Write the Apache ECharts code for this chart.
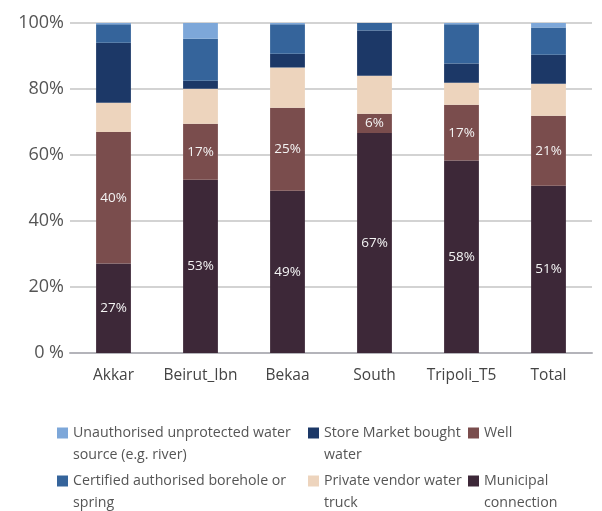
<!DOCTYPE html>
<html><head><meta charset="utf-8">
<script src="https://cdn.jsdelivr.net/npm/echarts@6/dist/echarts.min.js"></script>
<style>html,body{margin:0;padding:0;background:#fff}#c{width:602px;height:511px}</style>
</head><body><div id="c"></div>
<script>
const categories = ['Akkar','Beirut_Ibn','Bekaa','South','Tripoli_T5','Total'];
const municipal = [27.1, 52.5, 49.2, 66.7, 58.3, 50.7];
const well = [39.9, 17.0, 25.1, 5.8, 16.9, 21.2];
const privateTruck = [8.8, 10.6, 12.2, 11.5, 6.7, 9.7];
const storeMarket = [18.2, 2.4, 4.2, 13.7, 5.8, 8.8];
const certified = [5.6, 12.7, 8.9, 2.3, 11.9, 8.2];
const unauthorised = [0.4, 4.8, 0.4, 0, 0.4, 1.4];
const yTickLabels = ['0 %','20%','40%','60%','80%','100%'];

const seriesNames = {
  municipal: 'Municipal connection',
  well: 'Well',
  privateTruck: 'Private vendor water truck',
  storeMarket: 'Store Market bought water',
  certified: 'Certified authorised borehole or spring',
  unauthorised: 'Unauthorised unprotected water source (e.g. river)'
};
const legendText = {
  'Unauthorised unprotected water source (e.g. river)': 'Unauthorised unprotected water\nsource (e.g. river)',
  'Store Market bought water': 'Store Market bought\nwater',
  'Well': 'Well\n',
  'Certified authorised borehole or spring': 'Certified authorised borehole or\nspring',
  'Private vendor water truck': 'Private vendor water\ntruck',
  'Municipal connection': 'Municipal\nconnection'
};
const colors = {
  municipal: '#3d2838', well: '#7a4d4d', privateTruck: '#edd4bd',
  storeMarket: '#1c3867', certified: '#35649b', unauthorised: '#7da7d9'
};
const FONT = 'Open Sans';
const chart = echarts.init(document.getElementById('c'), null, {renderer: 'canvas'});

function mk(key, data, showLabel) {
  return {
    name: seriesNames[key], type: 'bar', stack: 'all', data: data, barWidth: '40%',
    itemStyle: {color: colors[key]},
    label: {show: showLabel, position: 'inside', color: '#f4f4f4', fontSize: 13.5, fontFamily: FONT,
      formatter: p => Math.round(p.value) + '%'}
  };
}
const legendPos = [
  [seriesNames.unauthorised, 57, 0],
  [seriesNames.storeMarket, 308, 0],
  [seriesNames.well, 468, 0],
  [seriesNames.certified, 57, 1],
  [seriesNames.privateTruck, 308, 1],
  [seriesNames.municipal, 468, 1]
];
const legends = legendPos.map(([n, x, r]) => ({
  data: [n], left: x, top: r === 0 ? 400 : 448, padding: 0,
  itemWidth: 11, itemHeight: 11, icon: 'rect', selectedMode: false,
  formatter: name => '\n' + legendText[name],
  textStyle: {fontFamily: FONT, fontSize: 14.2, color: '#555', lineHeight: 22}
}));

chart.setOption({
  animation: false,
  grid: {left: 70, right: 10, top: 23, bottom: 158},
  legend: legends,
  xAxis: {
    type: 'category', data: categories,
    axisTick: {show: false},
    axisLine: {lineStyle: {color: '#b4b4ba', width: 2}},
    axisLabel: {color: '#444', fontSize: 15.5, fontFamily: FONT, margin: 15, interval: 0}
  },
  yAxis: {
    type: 'value', min: 0, max: 100, interval: 20,
    axisLine: {show: false}, axisTick: {show: false},
    splitLine: {lineStyle: {color: '#d3d3d3', width: 2}},
    axisLabel: {color: '#555', fontSize: 18, fontFamily: FONT, margin: 6,
      formatter: v => yTickLabels[Math.round(v / 20)]}
  },
  series: [
    mk('municipal', municipal, true),
    mk('well', well, true),
    mk('privateTruck', privateTruck, false),
    mk('storeMarket', storeMarket, false),
    mk('certified', certified, false),
    mk('unauthorised', unauthorised, false)
  ]
});
</script></body></html>
